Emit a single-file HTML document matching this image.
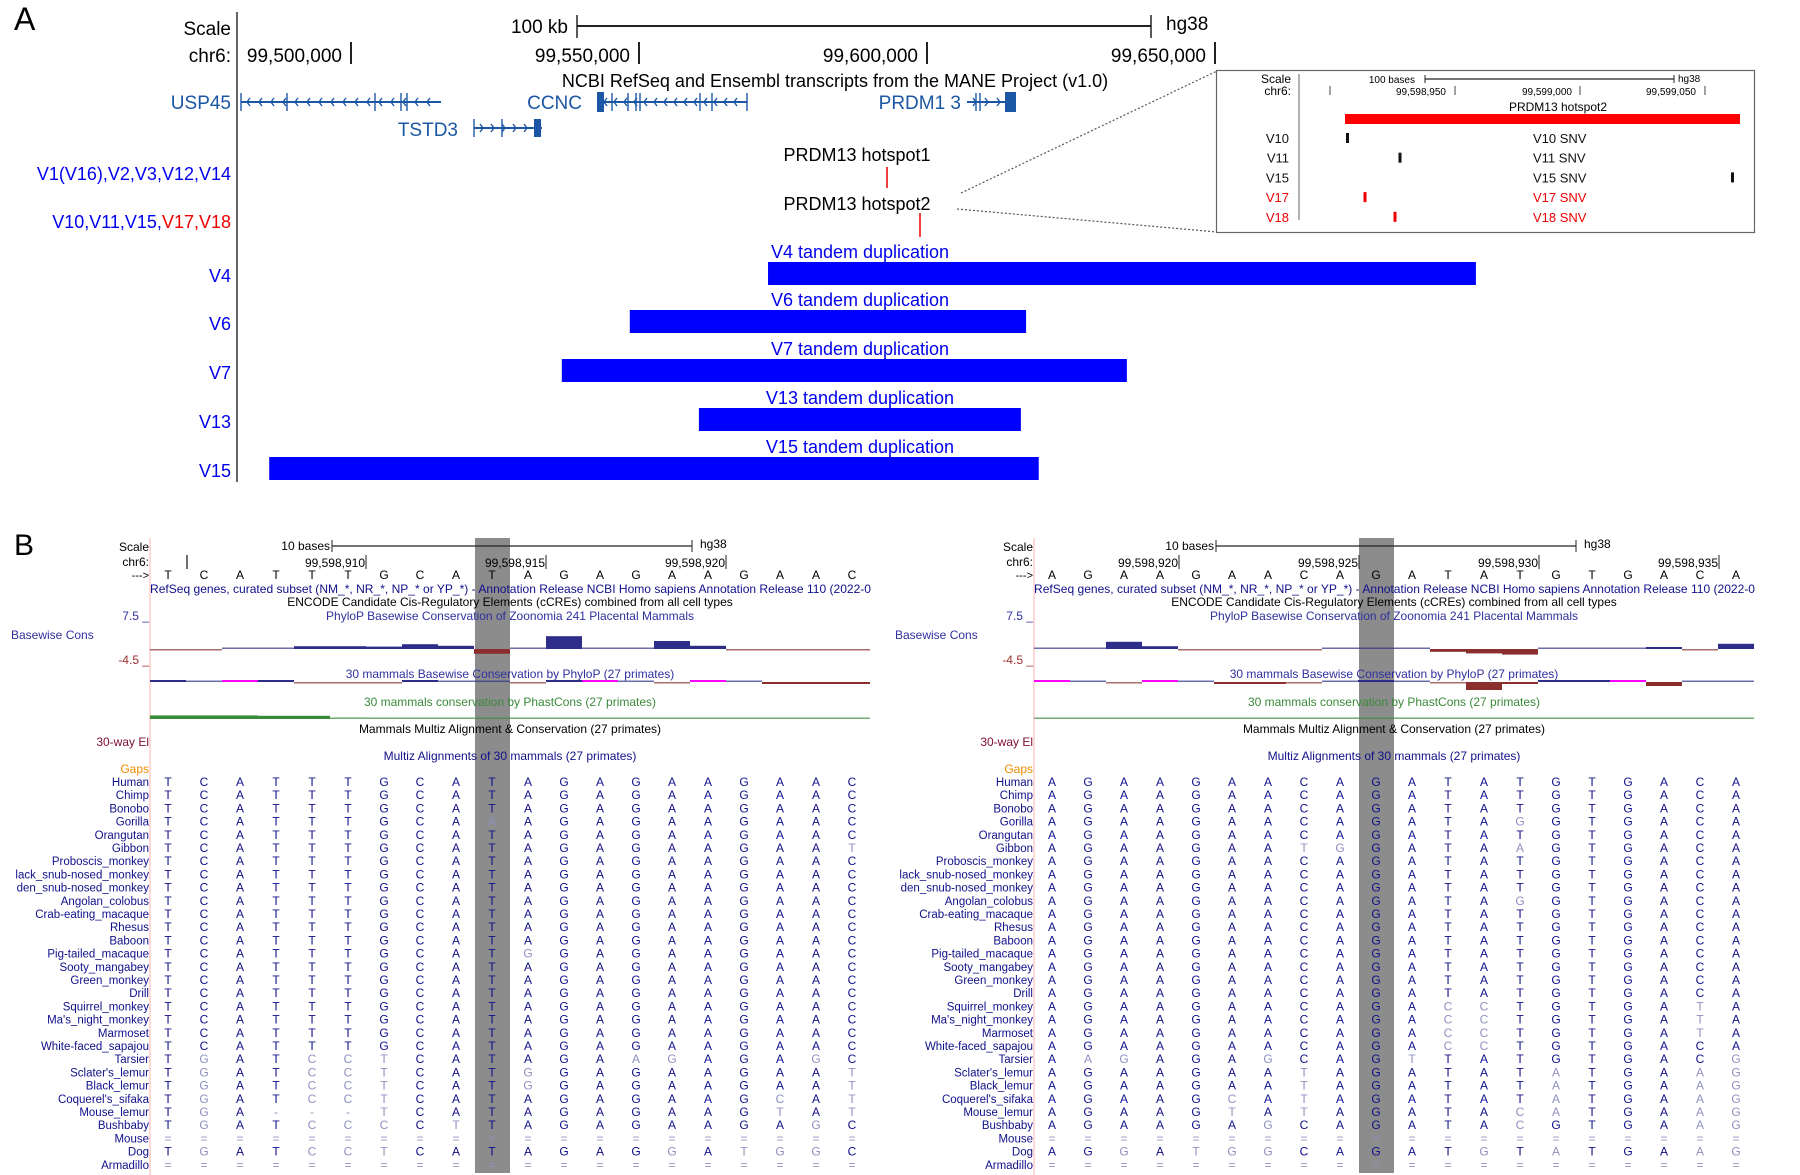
<!DOCTYPE html>
<html><head><meta charset="utf-8"><style>
html,body{margin:0;padding:0;background:#fff}
svg{display:block}
text{font-family:"Liberation Sans Narrow","Liberation Sans",sans-serif}
</style></head><body>
<svg id="fig" xmlns="http://www.w3.org/2000/svg" width="1800" height="1175" viewBox="0 0 1800 1175">
<g id="panelA">
<text x="14" y="30" font-size="32" font-family="Liberation Sans">A</text>
<line x1="237" y1="12" x2="237" y2="482" stroke="#333" stroke-width="1.5"/>
<text x="231" y="35" font-size="19" text-anchor="end">Scale</text>
<text x="568" y="33" font-size="19" text-anchor="end">100 kb</text>
<line x1="577" y1="26" x2="1151" y2="26" stroke="#222" stroke-width="2"/>
<line x1="577" y1="15" x2="577" y2="38" stroke="#222" stroke-width="1.5"/><line x1="1151" y1="15" x2="1151" y2="38" stroke="#222" stroke-width="1.5"/>
<text x="1166" y="30" font-size="19">hg38</text>
<text x="231" y="62" font-size="19" text-anchor="end">chr6:</text>
<g font-size="19" text-anchor="end">
<text x="342" y="62">99,500,000</text><line x1="351" y1="42" x2="351" y2="64" stroke="#222" stroke-width="2"/>
<text x="630" y="62">99,550,000</text><line x1="639" y1="42" x2="639" y2="64" stroke="#222" stroke-width="2"/>
<text x="918" y="62">99,600,000</text><line x1="927" y1="42" x2="927" y2="64" stroke="#222" stroke-width="2"/>
<text x="1206" y="62">99,650,000</text><line x1="1215" y1="42" x2="1215" y2="64" stroke="#222" stroke-width="2"/>
</g>
<text x="835" y="87" font-size="18" text-anchor="middle">NCBI RefSeq and Ensembl transcripts from the MANE Project (v1.0)</text>
<g fill="#1c57a5" stroke="#1c57a5">
<text x="231" y="109" font-size="19" text-anchor="end" stroke="none">USP45</text>
<line x1="241" y1="102" x2="441" y2="102" stroke-width="2"/>
<text x="458" y="136" font-size="19" text-anchor="end" stroke="none">TSTD3</text>
<line x1="474" y1="128" x2="542" y2="128" stroke-width="2"/><rect x="534" y="119" width="7" height="18" stroke="none"/>
<text x="582" y="109" font-size="19" text-anchor="end" stroke="none">CCNC</text>
<line x1="598" y1="102" x2="747" y2="102" stroke-width="2"/><rect x="597" y="92" width="7" height="20" stroke="none"/>
<text x="961" y="109" font-size="19" text-anchor="end" stroke="none">PRDM1  3</text>
<line x1="967" y1="102" x2="1016" y2="102" stroke-width="2"/><rect x="1005" y="92" width="11" height="20" stroke="none"/>
</g>
<g id="chev" fill="none" stroke="#1c57a5" stroke-width="1.4"></g>
<text x="231" y="180" font-size="18" text-anchor="end" fill="#0000ee">V1(V16),V2,V3,V12,V14</text>
<text x="231" y="228" font-size="18" text-anchor="end"><tspan fill="#0000ee">V10,V11,V15,</tspan><tspan fill="#ee0000">V17,V18</tspan></text>
<text x="857" y="161" font-size="18" text-anchor="middle">PRDM13 hotspot1</text>
<line x1="887" y1="167" x2="887" y2="188" stroke="#e00" stroke-width="1.5"/>
<text x="857" y="210" font-size="18" text-anchor="middle">PRDM13 hotspot2</text>
<line x1="920" y1="213" x2="920" y2="237" stroke="#e00" stroke-width="1.5"/>
<line x1="961" y1="193" x2="1217" y2="71" stroke="#555" stroke-width="1.2" stroke-dasharray="2,2"/>
<line x1="957" y1="209" x2="1217" y2="232" stroke="#555" stroke-width="1.2" stroke-dasharray="2,2"/>
<g id="dups"></g>
<g id="inset" font-family="Liberation Sans">
<rect x="1216.5" y="70.5" width="538" height="162" fill="#fff" stroke="#666" stroke-width="1.2"/>
<line x1="1299" y1="74" x2="1299" y2="220" stroke="#666" stroke-width="1"/>
<text x="1291" y="83" font-size="12" text-anchor="end">Scale</text>
<text x="1291" y="95" font-size="12" text-anchor="end">chr6:</text>
<text x="1415" y="83" font-size="10" text-anchor="end">100 bases</text>
<line x1="1425" y1="79" x2="1674" y2="79" stroke="#222" stroke-width="1.2"/><line x1="1425" y1="75" x2="1425" y2="83" stroke="#222"/><line x1="1674" y1="75" x2="1674" y2="83" stroke="#222"/>
<text x="1678" y="82" font-size="10">hg38</text>
<line x1="1330" y1="86" x2="1330" y2="95" stroke="#444"/>
<text x="1446" y="95" font-size="10" text-anchor="end">99,598,950</text><line x1="1455" y1="86" x2="1455" y2="95" stroke="#444"/>
<text x="1572" y="95" font-size="10" text-anchor="end">99,599,000</text><line x1="1580" y1="86" x2="1580" y2="95" stroke="#444"/>
<text x="1696" y="95" font-size="10" text-anchor="end">99,599,050</text><line x1="1705" y1="86" x2="1705" y2="95" stroke="#444"/>
<text x="1558" y="111" font-size="12" text-anchor="middle">PRDM13 hotspot2</text>
<rect x="1345" y="114" width="395" height="10" fill="#ff0000"/>
<g id="snvs"></g>
</g>
</g>
<g id="panelB">
<text x="14" y="555" font-size="30" font-family="Liberation Sans">B</text>
</g>
</svg>
<script>
// ---------- Panel A data ----------
const dupNames = ["V4","V6","V7","V13","V15"];
const dupStart = [99572400, 99548400, 99536600, 99560400, 99485800]; // bp
const dupEnd   = [99695300, 99617200, 99634700, 99616300, 99619400];
const snvNames = ["V10","V11","V15","V17","V18"];
const snvPos   = [99598907, 99598928, 99599061, 99598914, 99598926];
const snvRed   = [false,false,false,true,true];
// ---------- Panel B data ----------
const species = ["Human","Chimp","Bonobo","Gorilla","Orangutan","Gibbon","Proboscis_monkey","lack_snub-nosed_monkey","den_snub-nosed_monkey","Angolan_colobus","Crab-eating_macaque","Rhesus","Baboon","Pig-tailed_macaque","Sooty_mangabey","Green_monkey","Drill","Squirrel_monkey","Ma's_night_monkey","Marmoset","White-faced_sapajou","Tarsier","Sclater's_lemur","Black_lemur","Coquerel's_sifaka","Mouse_lemur","Bushbaby","Mouse","Dog","Armadillo"];
const seqLeft = ["TCATTTGCATAGAGAAGAAC","","","TCATTTGCAAAGAGAAGAAC","","TCATTTGCATAGAGAAGAAT","","","","","","","","TCATTTGCATGGAGAAGAAC","","","","","","","","TGATCCTCATAGAAGAGAGC","TGATCCTCATGGAGAAGAAT","TGATCCTCATGGAGAAGAAT","TGATCCTCATAGAGAAGCAT","TGA---TCATAGAGAAGTAT","TGATCCCCTTAGAGAAGAGC","====================","TGATCCTCATAGAGGATGGC","===================="];
const seqRight = ["AGAAGAACAGATATGTGACA","","","AGAAGAACAGATAGGTGACA","","AGAAGAATGGATAAGTGACA","","","","AGAAGAACAGATAGGTGACA","","","","","","","","AGAAGAACAGACCTGTGATA","AGAAGAACAGACCTGTGATA","AGAAGAACAGACCTGTGATA","AGAAGAACAGACCTGTGACA","AAGAGAGCAGTTATGTGACG","AGAAGAATAGATATATGAAG","AGAAGAATAGATATATGAAG","AGAAGCATAGATATATGAAG","AGAAGTATAGATACATGAAG","AGAAGAGCAGATACGTGAAG","====================","AGGATGGCAGATGTATGAAG","===================="];
const zooLeft  = [-0.1,-0.1,0.1,0.1,0.7,0.7,0.6,1.2,0.8,-1.2,0.1,3.2,0.1,0.1,2.0,0.8,-0.1,-0.1,-0.1,-0.1];
const zooRight = [0.1,0.1,1.8,0.7,-0.2,-0.2,-0.2,-0.2,0.1,0.1,0.3,-0.7,-1.1,-1.4,0.1,0.1,0.1,0.5,-0.3,1.3];
const p30Left  = [0.5,0.1,0.5,0.5,-0.1,-0.1,-0.3,0.5,0.1,0.1,-0.3,0.5,0.5,0.1,-0.3,0.5,0.1,-0.5,-0.5,-0.5];
const p30LeftMag = [0,0,1,0,0,0,0,0,0,0,0,0,1,0,0,1,0,0,0,0];
const p30Right = [0.5,0.1,-0.1,0.5,0.1,-0.5,-0.5,-0.3,0.1,0.5,0.1,-0.3,-2.0,-0.5,0.5,0.5,0.5,-1.0,0.1,0.1];
const p30RightMag = [1,0,0,1,0,0,0,0,0,0,0,0,0,0,0,0,1,0,0,0];
const phastLeft  = [0.9,0.9,0.9,0.8,0.8,0.4,0.1,0.1,0.1,0.1,0.1,0.1,0.1,0.1,0.1,0.1,0.1,0.1,0.1,0.1];
const phastRight = [0.1,0.1,0.1,0.1,0.1,0.1,0.1,0.1,0.1,0.1,0.1,0.1,0.1,0.1,0.1,0.1,0.1,0.1,0.1,0.1];
const chrLeft = ["99,598,910","99,598,915","99,598,920"];
const chrRight = ["99,598,920","99,598,925","99,598,930","99,598,935"];

const NS="http://www.w3.org/2000/svg";
function mk(tag, attrs, parent){const e=document.createElementNS(NS,tag);for(const k in attrs)e.setAttribute(k,attrs[k]);parent.appendChild(e);return e;}
function txt(s, attrs, parent){const e=mk("text",attrs,parent);e.textContent=s;return e;}

const bpX = bp => 351 + (bp-99500000)*(288/50000);
const dups=document.getElementById("dups");
const dupRowY=[262,310,359,408,457];
dupNames.forEach((n,i)=>{
  const y=dupRowY[i];
  const lab=txt(n,{x:231,y:y+20,"font-size":18,"text-anchor":"end",fill:"#0000ee"},dups);
  
  
  const t=txt(n+" tandem duplication",{x:860,y:y-4,"font-size":18,"text-anchor":"middle",fill:"#0000ee"},dups);
  
  
  const x0=bpX(dupStart[i]), x1=bpX(dupEnd[i]);
  const r=mk("rect",{x:x0,y:y,width:x1-x0,height:23,fill:"#0000ff"},dups);
  
  
});
const chev=document.getElementById("chev");
function arrows(x0,x1,y,dir,step){for(let x=x0+6;x<x1-4;x+=step){const d=dir<0?`M${x+3},${y-4} L${x},${y} L${x+3},${y+4}`:`M${x},${y-4} L${x+3},${y} L${x},${y+4}`;mk("path",{d:d},chev);}}
arrows(241,441,102,-1,12); arrows(598,747,102,-1,10); arrows(474,534,128,1,11); arrows(967,1005,102,1,12);
[[241,102],[287,102],[375,102],[401,102],[407,102],[612,102],[628,102],[636,102],[640,102],[700,102],[712,102],[747,102],[976,102],[980,102],[474,128],[502,128]].forEach(p=>mk("line",{x1:p[0],y1:p[1]-9,x2:p[0],y2:p[1]+9},chev));
const snvG=document.getElementById("snvs");
const snvX = bp => 1455 + (bp-99598950)*(125/50);
snvNames.forEach((n,i)=>{
  const y=138+i*19.7, col=snvRed[i]?"#ee0000":"#111";
  const l=txt(n,{x:1289,y:y+5,"font-size":13,"text-anchor":"end",fill:col},snvG);
  
  
  const m=mk("rect",{x:snvX(snvPos[i])-1.5,y:y-5,width:3,height:10,fill:col},snvG);
  
  
  const s=txt(n+" SNV",{x:1533,y:y+5,"font-size":13,fill:col},snvG);
  
  
});

const pB=document.getElementById("panelB");
function panel(off, seqs, zoo, p30, p30mag, phast, chrLabels, chrFirstX, side){
  const g=mk("g",{},pB);
  
  
  const colX=i=>off+168+i*36;
  const L=off+150, R=off+871;
  const band=mk("rect",{x:colX(9)-17,y:538,width:35,height:635,fill:"#8c8c8c"},g);
  
  
  mk("line",{x1:L,y1:538,x2:L,y2:1175,stroke:"#ffb0b0","stroke-width":1},g);
  txt("Scale",{x:off+149,y:551,"font-size":12,"text-anchor":"end"},g);
  txt("10 bases",{x:off+330,y:550,"font-size":12,"text-anchor":"end"},g);
  mk("line",{x1:off+332,y1:546,x2:off+692,y2:546,stroke:"#222","stroke-width":1.3},g);
  mk("line",{x1:off+332,y1:540,x2:off+332,y2:552,stroke:"#222"},g);mk("line",{x1:off+692,y1:540,x2:off+692,y2:552,stroke:"#222"},g);
  txt("hg38",{x:off+700,y:548,"font-size":12},g);
  txt("chr6:",{x:off+149,y:566,"font-size":12,"text-anchor":"end"},g);
  if(side==="left") mk("line",{x1:off+187,y1:555,x2:off+187,y2:569,stroke:"#222","stroke-width":1.3},g);
  chrLabels.forEach((s,i)=>{const x=chrFirstX+i*180;txt(s,{x:x-1,y:567,"font-size":12,"text-anchor":"end"},g);mk("line",{x1:x,y1:555,x2:x,y2:569,stroke:"#222"},g);});
  txt("--->",{x:off+149,y:579,"font-size":11,"text-anchor":"end"},g);
  const human=seqs[0];
  for(let i=0;i<20;i++) txt(human[i],{x:colX(i),y:579,"font-size":12,"text-anchor":"middle"},g);
  const cx=off+510;
  txt("RefSeq genes, curated subset (NM_*, NR_*, NP_* or YP_*) - Annotation Release NCBI Homo sapiens Annotation Release 110 (2022-0",{x:L,y:593,"font-size":12,fill:"#10108a",textLength:R-L,lengthAdjust:"spacingAndGlyphs"},g);
  txt("ENCODE Candidate Cis-Regulatory Elements (cCREs) combined from all cell types",{x:cx,y:606,"font-size":12,"text-anchor":"middle"},g);
  txt("PhyloP Basewise Conservation of Zoonomia 241 Placental Mammals",{x:cx,y:620,"font-size":12,"text-anchor":"middle",fill:"#3030a0"},g);
  txt("7.5 _",{x:off+149,y:620,"font-size":12,"text-anchor":"end",fill:"#3030a0"},g);
  txt("Basewise Cons",{x:off+11,y:639,"font-size":12,fill:"#3030a0"},g);
  txt("-4.5 _",{x:off+149,y:664,"font-size":12,"text-anchor":"end",fill:"#a03030"},g);
  txt("30 mammals Basewise Conservation by PhyloP (27 primates)",{x:cx,y:678,"font-size":12,"text-anchor":"middle",fill:"#3030a0"},g);
  txt("30 mammals conservation by PhastCons (27 primates)",{x:cx,y:706,"font-size":12,"text-anchor":"middle",fill:"#3a8a3a"},g);
  txt("Mammals Multiz Alignment & Conservation (27 primates)",{x:cx,y:733,"font-size":12,"text-anchor":"middle"},g);
  txt("30-way El",{x:off+149,y:746,"font-size":12,"text-anchor":"end",fill:"#801030"},g);
  txt("Multiz Alignments of 30 mammals (27 primates)",{x:cx,y:760,"font-size":12,"text-anchor":"middle",fill:"#10108a"},g);
  txt("Gaps",{x:off+149,y:773,"font-size":12,"text-anchor":"end",fill:"#f08c00"},g);
  const SC=4;
  function barTrack(vals, base, mag, name, posCol, negCol){
    const tg=mk("g",{},g);
    
    
    vals.forEach((v,i)=>{
      const x=L+i*36, h=Math.max(1.5,Math.abs(v)*SC);
      const col = (mag&&mag[i]) ? "#ff00ff" : (v>=0?posCol:negCol);
      const y = v>=0 ? base-h : base;
      const r=mk("rect",{x:x,y:y,width:36,height:h,fill:col,opacity:Math.abs(v)*SC<2?0.7:1},tg);
      
      
    });
  }
  barTrack(zoo,649,null,'zoonomia-phylop-'+side,"#2e2e8a","#8a2e2e");
  barTrack(p30,682,p30mag,'phylop30-'+side,"#2e2e8a","#8a2e2e");
  barTrack(phast,719,null,'phastcons-'+side,"#3a8a3a","#3a8a3a");
  species.forEach((sp,r)=>{
    const y=786+r*13.2;
    const n=txt(sp,{x:off+149,y:y,"font-size":11.5,"text-anchor":"end",fill:"#10108a"},g);
    
    
    const s=seqs[r]||human;
    for(let i=0;i<20;i++){
      const c=s[i];
      const light=(c!==human[i]);
      txt(c,{x:colX(i),y:y,"font-size":12,"text-anchor":"middle",fill:light?"#9090c0":"#10108a"},g);
    }
  });
}
panel(0,seqLeft,zooLeft,p30Left,p30LeftMag,phastLeft,chrLeft,366,"left");
panel(884,seqRight,zooRight,p30Right,p30RightMag,phastRight,chrRight,1179,"right");
</script>
</body></html>
